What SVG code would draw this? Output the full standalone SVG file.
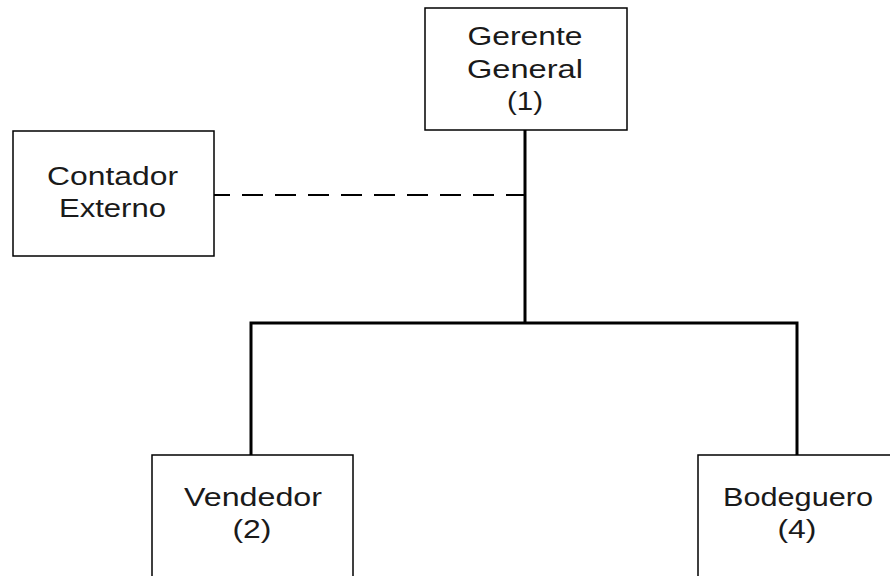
<svg xmlns="http://www.w3.org/2000/svg" width="890" height="576" viewBox="0 0 890 576">
<style>
.box{fill:#fff;stroke:#000;stroke-width:1.5}
.t{font-family:"Liberation Sans",Arial,sans-serif;font-size:25px;fill:#1a1a1a;text-anchor:middle}
.c{fill:none;stroke:#000;stroke-width:3}
.d{fill:none;stroke:#000;stroke-width:2;stroke-dasharray:21 12;stroke-dashoffset:5}
</style>
<rect width="890" height="576" fill="#fff"/>
<g id="connectors">
<path class="c" d="M525 130 V323 M251 323 H797 M251 321.5 V455 M797 321.5 V455"/>
<path class="d" d="M214 195 H525"/>
</g>
<g id="gerente">
<rect class="box" x="425" y="8" width="202" height="122"/>
<text class="t" x="525" y="45" textLength="115" lengthAdjust="spacingAndGlyphs">Gerente</text>
<text class="t" x="525" y="78" textLength="116" lengthAdjust="spacingAndGlyphs">General</text>
<text class="t" x="525" y="110" textLength="36" lengthAdjust="spacingAndGlyphs">(1)</text>
</g>
<g id="contador">
<rect class="box" x="13" y="131" width="201" height="125"/>
<text class="t" x="112.5" y="185" textLength="131" lengthAdjust="spacingAndGlyphs">Contador</text>
<text class="t" x="112.5" y="217" textLength="107" lengthAdjust="spacingAndGlyphs">Externo</text>
</g>
<g id="vendedor">
<rect class="box" x="152" y="455" width="201" height="140"/>
<text class="t" x="253" y="506" textLength="138" lengthAdjust="spacingAndGlyphs">Vendedor</text>
<text class="t" x="252" y="538" textLength="39" lengthAdjust="spacingAndGlyphs">(2)</text>
</g>
<g id="bodeguero">
<rect class="box" x="698" y="455" width="210" height="140"/>
<text class="t" x="798" y="506" textLength="150" lengthAdjust="spacingAndGlyphs">Bodeguero</text>
<text class="t" x="797" y="538" textLength="39" lengthAdjust="spacingAndGlyphs">(4)</text>
</g>
</svg>
